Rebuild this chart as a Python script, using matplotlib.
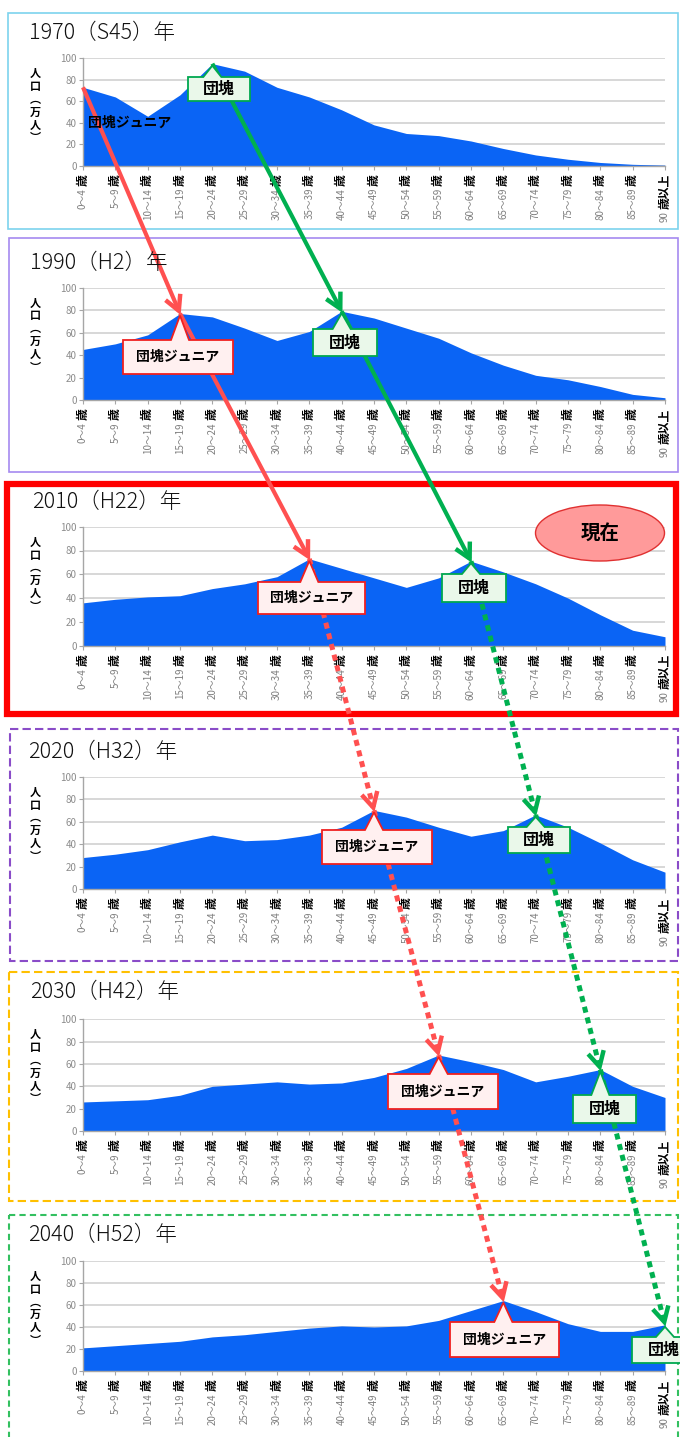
import matplotlib
matplotlib.use('Agg')
import matplotlib.pyplot as plt
from matplotlib.patches import Rectangle, Polygon, Ellipse
import numpy as np

plt.rcParams['font.family'] = ['Noto Sans CJK JP', 'DejaVu Sans']

# ---------------- data ----------------
age_groups = ["0～4歳", "5～9歳", "10～14歳", "15～19歳", "20～24歳", "25～29歳",
              "30～34歳", "35～39歳", "40～44歳", "45～49歳", "50～54歳", "55～59歳",
              "60～64歳", "65～69歳", "70～74歳", "75～79歳", "80～84歳", "85～89歳",
              "90歳以上"]
titles = ["1970（S45）年", "1990（H2）年", "2010（H22）年",
          "2020（H32）年", "2030（H42）年", "2040（H52）年"]
pop_1970 = [73, 64, 46, 66, 95, 88, 73, 64, 52, 38, 30, 28, 23, 16, 10, 6, 3, 1.3, 0.5]
pop_1990 = [45, 50, 58, 77, 74, 64, 53, 61, 79, 73, 64, 55, 42, 31, 22, 18, 12, 5, 2]
pop_2010 = [36, 39, 41, 42, 48, 52, 58, 73, 65, 57, 49, 57, 71, 62, 52, 40, 26, 13, 7.5]
pop_2020 = [28, 31, 35, 42, 48, 43, 44, 48, 55, 70, 64, 55, 47, 52, 66, 55, 41, 26, 15]
pop_2030 = [26, 27, 28, 32, 40, 42, 44, 42, 43, 48, 56, 68, 62, 55, 44, 49, 55, 40, 30]
pop_2040 = [21, 23, 25, 27, 31, 33, 36, 39, 41, 40, 41, 46, 55, 64, 54, 43, 36, 36, 42]
series = [pop_1970, pop_1990, pop_2010, pop_2020, pop_2030, pop_2040]
yticks = [0, 20, 40, 60, 80, 100]
ylabel = "人口（万人）"
junior_label = "団塊ジュニア"
dankai_label = "団塊"
now_label = "現在"
junior_idx = [0, 3, 7, 9, 11, 13]
dankai_idx = [4, 8, 12, 14, 16, 18]

# ---------------- layout (pixels) ----------------
W, H = 680, 1437
fig = plt.figure(figsize=(W / 100, H / 100), dpi=100)
fig.patch.set_facecolor('white')

axes_px = [(58.3, 165.7), (287.7, 400), (526.7, 645.7),
           (776.7, 889), (1019.3, 1131), (1261, 1371)]
left_px, right_px = 83, 665
title_pos = [(29, 33), (30, 263), (32, 502), (28, 752), (30, 992), (28, 1235)]

AREA = '#0A64F5'
GRID = '#D4D4D4'
AXC = '#A6A6A6'

axes = []
for k, (top, bot) in enumerate(axes_px):
    ax = fig.add_axes([left_px / W, 1 - bot / H, (right_px - left_px) / W, (bot - top) / H])
    x = np.arange(len(age_groups))
    ax.fill_between(x, 0, series[k], color=AREA, lw=0, zorder=2)
    ax.set_xlim(0, len(age_groups) - 1)
    ax.set_ylim(0, 100)
    ax.set_yticks(yticks)
    ax.set_yticklabels([str(v) for v in yticks], fontsize=7, color='#8C8C8C')
    ax.yaxis.grid(True, color=GRID, lw=1.3, zorder=1)
    ax.set_axisbelow(True)
    for s in ['top', 'right']:
        ax.spines[s].set_visible(False)
    for s in ['left', 'bottom']:
        ax.spines[s].set_color(AXC)
        ax.spines[s].set_linewidth(1.0)
    ax.tick_params(axis='y', length=3, width=0.8, color=AXC, pad=1.5)
    ax.set_xticks(x)
    ax.set_xticklabels([])
    ax.tick_params(axis='x', length=3, width=0.8, color=AXC, direction='out')
    ax.patch.set_alpha(0)
    for i, lab in enumerate(age_groups):
        num, rest = lab.split("歳")
        suffix = "歳" + rest
        ax.annotate(suffix, xy=(i, 0), xycoords=('data', 'axes fraction'),
                    xytext=(0, -6), textcoords='offset points', rotation=90,
                    ha='center', va='top', fontsize=8.5, fontweight='bold', color='black')
        ax.annotate(num, xy=(i, 0), xycoords=('data', 'axes fraction'),
                    xytext=(0, -7.5 - 8.5 * len(suffix)), textcoords='offset points', rotation=90,
                    ha='center', va='top', fontsize=7, color='#7F7F7F')
    axes.append(ax)

# overlay in pixel coordinates
ov = fig.add_axes([0, 0, 1, 1], zorder=10)
ov.set_xlim(0, W)
ov.set_ylim(H, 0)
ov.axis('off')
ov.patch.set_alpha(0)


def px(ax, xv, yv):
    dx, dy = ax.transData.transform((xv, yv))
    return dx, H - dy


# panel frames
frames = [
    ((8, 13, 678, 229), '#7DD3EE', '-', 1.2),
    ((9, 238, 678, 472), '#A58AF0', '-', 1.2),
    ((7, 484, 676, 714), '#FF0000', '-', 4.5),
    ((10, 729, 678, 961), '#8A4CC8', (0, (4, 2)), 1.5),
    ((9, 972, 678, 1201), '#FFC000', (0, (4, 2)), 1.5),
    ((9, 1215, 678, 1445), '#33C060', (0, (3, 2)), 1.5),
]
for (l, t, r, b), c, ls, lw in frames:
    ov.add_patch(Rectangle((l, t), r - l, b - t, fill=False, edgecolor=c,
                           linestyle=ls, lw=lw, zorder=1))

# titles and y labels
vert = {"（": "︵", "）": "︶"}
ylab_v = "\n".join(vert.get(ch, ch) for ch in ylabel)
for k, (tx, ty) in enumerate(title_pos):
    ov.text(tx, ty, titles[k], fontsize=15.5, fontweight='light', ha='left', va='center',
            color='#111111', zorder=5)
    top, bot = axes_px[k]
    ov.text(35, top + 9, ylab_v, fontsize=8, fontweight='bold', ha='center', va='top',
            linespacing=0.98, color='black', zorder=5)

# arrows
RED = '#FF5050'
GREEN = '#00B050'


def arrow(p0, p1, color, dotted):
    p0 = np.array(p0)
    p1 = np.array(p1)
    d = (p1 - p0) / np.linalg.norm(p1 - p0)
    n = np.array([-d[1], d[0]])
    end = p1 - 3 * d
    if dotted:
        ov.plot([p0[0], end[0]], [p0[1], end[1]], color=color, lw=3.6,
                linestyle=(0, (1.2, 1.0)), dash_capstyle='butt', zorder=2)
    else:
        ov.plot([p0[0], end[0]], [p0[1], end[1]], color=color, lw=3.0,
                solid_capstyle='butt', zorder=2)
    L, Wd = 15, 8
    w1 = end - L * d + Wd * n
    w2 = end - L * d - Wd * n
    ov.plot([w1[0], end[0], w2[0]], [w1[1], end[1], w2[1]], color=color,
            lw=3.2, solid_joinstyle='miter', solid_capstyle='butt', zorder=2)


for k in range(len(series) - 1):
    dotted = k >= 2
    a = px(axes[k], junior_idx[k], series[k][junior_idx[k]])
    b = px(axes[k + 1], junior_idx[k + 1], series[k + 1][junior_idx[k + 1]])
    arrow(a, b, RED, dotted)
    a = px(axes[k], dankai_idx[k], series[k][dankai_idx[k]])
    b = px(axes[k + 1], dankai_idx[k + 1], series[k + 1][dankai_idx[k + 1]])
    arrow(a, b, GREEN, dotted)

# callouts
styles = {'r': ('#F02020', '#FFF0F0'), 'g': ('#00A850', '#EAF8EA')}
callouts = [
    (0, 'dankai', (188, 77, 250, 101)),
    (1, 'junior', (123, 340, 233, 374)),
    (1, 'dankai', (313, 329, 377, 356)),
    (2, 'junior', (258, 582, 365, 614)),
    (2, 'dankai', (442, 574, 506, 602)),
    (3, 'junior', (322, 830, 432, 864)),
    (3, 'dankai', (508, 827, 570, 853)),
    (4, 'junior', (388, 1074, 498, 1109)),
    (4, 'dankai', (573, 1095, 636, 1123)),
    (5, 'junior', (450, 1322, 559, 1357)),
    (5, 'dankai', (632, 1337, 695, 1363)),
]
for k, kind, (l, t, r, b) in callouts:
    idx = junior_idx[k] if kind == 'junior' else dankai_idx[k]
    tx, ty = px(axes[k], idx, series[k][idx])
    ty += 2
    ec, fc = styles['r'] if kind == 'junior' else styles['g']
    bx = min(max(tx, l + 12), r - 12)
    poly = [(l, t), (bx - 9, t), (tx, ty), (bx + 9, t), (r, t), (r, b), (l, b)]
    ov.add_patch(Polygon(poly, closed=True, facecolor=fc, edgecolor=ec, lw=1.3, zorder=3))
    label = junior_label if kind == 'junior' else dankai_label
    fs = 10 if kind == 'junior' else 11.5
    ov.text((l + r) / 2, (t + b) / 2, label, fontsize=fs, fontweight='bold',
            ha='center', va='center', color='black', zorder=4)

# 1970 junior plain label
ov.text(88, 123, junior_label, fontsize=10, fontweight='bold', ha='left', va='center',
        color='black', zorder=4)

# "現在" ellipse
ov.add_patch(Ellipse((600, 533), 129, 56, facecolor='#FF9A9A', edgecolor='#E03030',
                     lw=1.0, zorder=3))
ov.text(600, 533, now_label, fontsize=14, fontweight='bold', ha='center', va='center',
        color='black', zorder=4)

fig.savefig('out.png', dpi=100)
